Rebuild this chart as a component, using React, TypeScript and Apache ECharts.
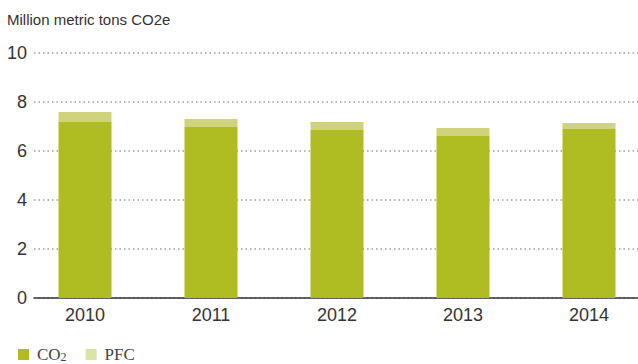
import React, { useEffect, useRef } from "react";
import * as echarts from "echarts";

const years = ["2010", "2011", "2012", "2013", "2014"];
const co2Values = [7.18, 6.98, 6.86, 6.61, 6.9];
const pfcValues = [0.41, 0.33, 0.32, 0.33, 0.24];
const yTicks = { min: 0, max: 10, interval: 2 };
const titleText = "Million metric tons CO2e";

const CO2_COLOR = "#afbc22";
const PFC_COLOR = "#cfd37c";
const PFC_LEGEND_COLOR = "#dde2a6";
const SANS = "'Liberation Sans', Arial, Helvetica, sans-serif";
const SERIF = "'Liberation Serif', 'Times New Roman', serif";

export default function App() {
  const ref = useRef<HTMLDivElement>(null);
  useEffect(() => {
    if (!ref.current) return;
    const chart = echarts.init(ref.current, null, { renderer: "svg" });
    chart.setOption({
      animation: false,
      title: {
        text: titleText,
        left: 7,
        top: 12,
        padding: 0,
        textStyle: { fontFamily: SANS, fontSize: 15, fontWeight: "normal", color: "#333" },
      },
      legend: {
        left: 18,
        top: 346,
        padding: 0,
        icon: "rect",
        itemWidth: 11,
        itemHeight: 11,
        itemGap: 19,
        data: [
          { name: "CO2", itemStyle: { color: CO2_COLOR } },
          { name: "PFC", itemStyle: { color: PFC_LEGEND_COLOR } },
        ],
        formatter: (name: string) => (name === "CO2" ? "CO{sub|2}" : name),
        textStyle: {
          fontFamily: SERIF,
          fontSize: 17,
          color: "#444",
          padding: [0, 0, 0, 3],
          rich: {
            sub: { fontFamily: SERIF, fontSize: 12, color: "#444", padding: [4, 0, 0, 0] },
          },
        },
      },
      grid: [
        { left: 22, width: 630, top: 53, bottom: 66 },
        { left: 34, width: 604, top: 53, bottom: 66 },
      ],
      xAxis: [
        {
          type: "category",
          gridIndex: 0,
          data: years,
          axisLine: { show: false },
          axisTick: { show: false },
          axisLabel: { fontFamily: SANS, fontSize: 18, color: "#333", margin: 8 },
          splitLine: { show: false },
        },
        {
          type: "value",
          gridIndex: 1,
          min: 0,
          max: 1,
          axisLine: { show: true, lineStyle: { color: "#333", width: 1.5 } },
          axisTick: { show: false },
          axisLabel: { show: false },
          splitLine: { show: false },
        },
      ],
      yAxis: [
        {
          type: "value",
          gridIndex: 0,
          min: yTicks.min,
          max: yTicks.max,
          interval: yTicks.interval,
          show: false,
          splitLine: { show: false },
        },
        {
          type: "value",
          gridIndex: 1,
          min: yTicks.min,
          max: yTicks.max,
          interval: yTicks.interval,
          axisLine: { show: false },
          axisTick: { show: false },
          axisLabel: { fontFamily: SANS, fontSize: 18, color: "#333", margin: 7 },
          splitLine: { show: true, lineStyle: { color: "#a0a0a0", width: 1.5, type: [1.5, 3] } },
        },
      ],
      series: [
        {
          name: "CO2",
          type: "bar",
          xAxisIndex: 0,
          yAxisIndex: 0,
          stack: "total",
          barWidth: 53,
          itemStyle: { color: CO2_COLOR },
          data: co2Values,
        },
        {
          name: "PFC",
          type: "bar",
          xAxisIndex: 0,
          yAxisIndex: 0,
          stack: "total",
          barWidth: 53,
          itemStyle: { color: PFC_COLOR },
          data: pfcValues,
        },
      ],
    });
    return () => chart.dispose();
  }, []);
  return (
    <div
      style={{
        position: "absolute",
        left: 0,
        top: 0,
        width: 638,
        height: 364,
        overflow: "hidden",
        background: "#fff",
      }}
    >
      <div ref={ref} style={{ width: 660, height: 364 }} />
    </div>
  );
}
